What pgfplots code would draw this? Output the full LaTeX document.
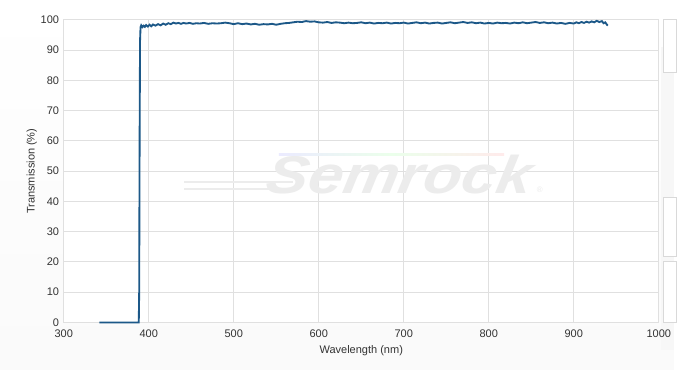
\documentclass[border=0pt]{standalone}
\usepackage{fontspec}
\setmainfont{Liberation Sans}
\usepackage{pgfplots}
\pgfplotsset{compat=1.18}
\definecolor{linec}{RGB}{28,88,136}
\definecolor{gridc}{RGB}{224,224,224}
\definecolor{txtc}{RGB}{51,51,51}
\definecolor{wm}{RGB}{236,236,236}
\begin{document}
\begin{tikzpicture}[x=0.75pt,y=0.75pt]
% full picture 677 x 371 px, y measured from bottom
\fill[top color=white,bottom color=gray!4] (0,0) rectangle (677,371);
% right side panel
\fill[gray!6] (664,19) rectangle (677,324);
\draw[gray!30,fill=white] (666,298) rectangle (680,352);
\draw[gray!30,fill=white] (666,113) rectangle (680,173);
\draw[gray!30,fill=white] (666,47) rectangle (680,108);
\begin{axis}[
  at={(64pt*0.75,47pt*0.75)}, anchor=south west,
  scale only axis, width=448.5pt, height=228pt,
  xmin=300, xmax=1000, ymin=0, ymax=100,
  xtick={300,400,...,1000}, ytick={0,10,...,100},
  grid=major, major grid style={gridc, line width=0.8pt},
  axis line style={gridc, line width=0.8pt},
  axis background/.style={fill=white},
  tick style={draw=none},
  /pgf/number format/assume math mode=true,
  /pgf/number format/set thousands separator={},
  tick label style={font=\fontsize{8.3}{10}\selectfont, text=txtc},
  xticklabel style={yshift=-2pt},
  xlabel={Wavelength (nm)}, ylabel={Transmission (\%)},
  label style={font=\fontsize{8.3}{10}\selectfont, text=txtc},
  xlabel style={yshift=1pt}, ylabel style={yshift=-4pt},
  clip=false,
]
% watermark
\node[font=\bfseries\itshape\fontsize{40}{44}\selectfont, text=wm, xscale=1.18, xslant=0.15] at (axis cs:696,49) {Semrock};
\node[font=\fontsize{6}{7}\selectfont, text=wm] at (axis cs:860,44) {®};
\draw[wm, line width=1.3pt] (axis cs:442,46.4) -- (axis cs:570,46.4);
\draw[wm, line width=1.3pt] (axis cs:442,44) -- (axis cs:565,44);
\shade[left color=blue!8, right color=red!8, middle color=green!8] (axis cs:553,55.2) rectangle (axis cs:818,55.9);
\addplot[linec, line width=1.4pt] coordinates {
(342,0) (388.3,0) (388.8,10) (389.3,60) (389.8,93) (390.4,97.6) (391.2,98.2) (392.5,97.6) (394,98.1) (395.5,97.7)
(397,98.3) (399,97.8) (401,98.4) (403,97.9) (405,98.5) (408,98.1) (411,98.6) (414,98.2) (417,98.8) (420,98.4)
(423,98.9) (426,98.6) (429,99.1) (432,98.8) (435,99.0) (438,98.7) (441,99.0) (444,98.8) (448,99.0) (452,98.7)
(456,98.9) (460,98.8) (465,99.0) (470,98.7) (475,98.9) (480,98.8) (485,98.9) (490,99.1) (495,98.9) (500,98.6)
(505,98.9) (510,98.6) (515,98.8) (520,98.5) (525,98.7) (530,98.4) (535,98.6) (540,98.5) (545,98.7) (550,98.4)
(555,98.7) (560,98.9) (565,99.0) (570,99.2) (575,99.4) (580,99.3) (585,99.6) (590,99.4) (595,99.5) (600,99.2)
(605,99.1) (610,99.3) (615,99.0) (620,99.2) (625,99.1) (630,98.9) (635,99.1) (640,98.9) (645,99.0) (650,99.2)
(655,98.9) (660,99.1) (665,98.8) (670,99.0) (675,98.9) (680,99.1) (685,98.8) (690,99.0) (695,98.9) (700,99.1)
(705,98.8) (710,99.0) (715,99.2) (720,98.9) (725,99.1) (730,98.8) (735,99.0) (740,99.1) (745,98.8) (750,99.0)
(755,99.2) (760,98.9) (765,99.1) (770,99.3) (775,99.0) (780,99.2) (785,98.9) (790,99.1) (795,98.8) (800,99.0)
(805,98.8) (810,99.1) (815,98.9) (820,99.0) (825,98.8) (830,99.1) (835,98.9) (840,99.2) (845,98.9) (850,99.1)
(855,99.3) (860,99.0) (865,99.2) (870,98.9) (875,99.1) (880,98.8) (885,99.0) (890,98.7) (895,99.0) (900,98.8)
(903,99.2) (906,98.9) (909,99.3) (912,99.0) (915,99.4) (918,99.1) (921,99.5) (924,99.2) (927,99.7) (930,99.3)
(933,99.6) (935,98.9) (937,99.2) (939,98.4) (940,98.1)
};
\end{axis}
\end{tikzpicture}
\end{document}
